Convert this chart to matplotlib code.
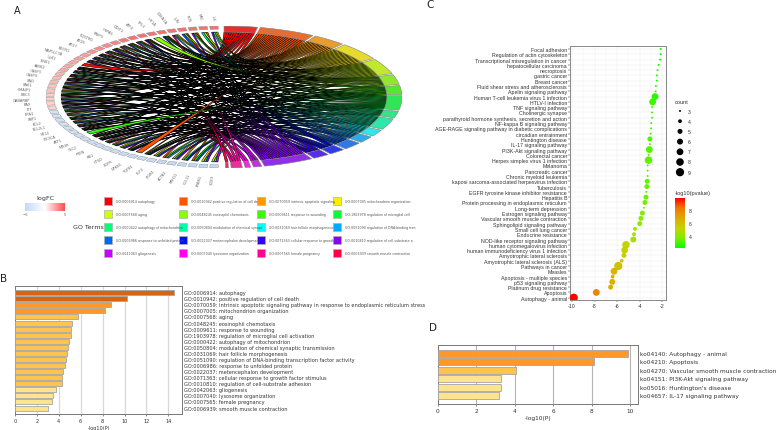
import matplotlib
matplotlib.use("Agg")
import matplotlib.pyplot as plt
from matplotlib.path import Path
from matplotlib.patches import PathPatch, Polygon, Rectangle
from matplotlib.colors import LinearSegmentedColormap, Normalize
from matplotlib.cm import ScalarMappable
import numpy as np

W, H = 777, 431

# --- panel A data
genes = ["IL6", "MYC", "FOS", "JUN", "CDKN1A", "HIF1A", "TP53", "ATF4", "DDIT3", "HSPA5",
         "BNIP3", "SQSTM1", "ATG5", "ATG7", "BECN1", "MAP1LC3B", "ULK1", "PINK1", "PARK2", "CASP3",
         "CASP9", "BAD", "BAK1", "PMAIP1", "BBC3", "GABARAP", "BAX", "LTF", "ERN1", "XBP1",
         "BCL2", "BCL2L1", "MCL1", "PIK3CA", "AKT1", "MTOR", "TSC2", "PTEN", "RB1", "CTSD",
         "EGFR", "NFKB1", "TGFB1", "KLF4", "ITGB1", "ACTA2", "MYH11", "CCL11", "PPARG", "SOX9"]
gene_logfc = [3.6, 3.9, 3.2, 2.8, 2.5, 2.4, 2.2, 2.0, 2.0, 1.9,
              1.8, 1.7, 1.7, 1.6, 1.5, 1.5, 1.4, 1.4, 1.4, 1.3,
              1.2, 1.2, 1.1, 1.1, 1.0, 1.0, 0.9, 0.9,
              -0.9, -1.0, -1.0, -1.1, -1.1, -1.1, -1.2, -1.2, -1.2, -1.3,
              -1.3, -1.3, -1.4, -1.4, -1.4, -1.5, -1.5, -1.6, -1.6, -1.7, -1.8, -1.8]
go_terms = ["GO:0006914 autophagy", "GO:0010942 positive regulation of cell de",
            "GO:0070059 intrinsic apoptotic signaling", "GO:0007005 mitochondrion organization",
            "GO:0007568 aging", "GO:0048245 eosinophil chemotaxis",
            "GO:0009611 response to wounding", "GO:1903978 regulation of microglial cell",
            "GO:0000422 autophagy of mitochondrion", "GO:0050804 modulation of chemical synapt",
            "GO:0031069 hair follicle morphogenesis", "GO:0051090 regulation of DNA-binding tran",
            "GO:0006986 response to unfolded protein", "GO:0022037 metencephalon development",
            "GO:0071363 cellular response to growth fa", "GO:0010810 regulation of cell-substrate a",
            "GO:0042063 gliogenesis", "GO:0007040 lysosome organization",
            "GO:0007565 female pregnancy", "GO:0006939 smooth muscle contraction"]
go_colors = ["#ff0000", "#ff5500", "#ff9900", "#ffee00", "#ccff00", "#88ff00", "#33ff00", "#00ff33",
             "#00ff77", "#00ffaa", "#00ffff", "#00aaff", "#0066ff", "#0011ff", "#3300ff", "#8800ff",
             "#cc00ff", "#ff00ee", "#ff0099", "#ff0044"]
# gene indices (0 = top of the ring) belonging to each GO term
go_members = [
    [3, 7, 9, 12, 15, 16, 18, 21, 24, 29, 35, 40],
    [1, 2, 5, 8, 10, 13, 14, 17, 19, 22, 25, 27, 28, 31, 33, 36, 38, 41, 44, 47],
    [2, 5, 8, 13, 17, 20, 23, 26, 30, 37, 42, 46],
    [0, 4, 7, 9, 11, 14, 17, 20, 23, 27, 30, 32, 33, 39, 43, 48],
    [1, 4, 10, 12, 15, 18, 22, 26, 29, 32, 35, 40, 45, 49],
    [0, 3, 6, 7, 11, 19, 24, 37, 42],
    [5, 21, 28, 33, 34, 36, 44, 47],
    [2, 5, 9, 13, 17, 20, 25, 31, 35, 38, 40, 42, 46],
    [12, 18, 23, 30, 39, 45],
    [1, 8, 14, 19, 22, 27, 32, 36, 43, 48],
    [0, 10, 18, 26, 35, 49],
    [4, 15, 24, 29, 42, 44],
    [3, 11, 21, 28, 33, 37, 47],
    [5, 7, 25, 31, 40, 46],
    [9, 13, 20, 36, 38, 42],
    [0, 2, 7, 8, 11, 14, 17, 22, 26, 27, 30, 33, 36, 39, 40, 43, 45, 48],
    [15, 32, 49],
    [19, 35],
    [4, 12, 24, 37],
    [10],
]

# --- panel B data
b_labels = ["GO:0006914: autophagy", "GO:0010942: positive regulation of cell death",
            "GO:0070059: intrinsic apoptotic signaling pathway in response to endoplasmic reticulum stress",
            "GO:0007005: mitochondrion organization", "GO:0007568: aging",
            "GO:0048245: eosinophil chemotaxis", "GO:0009611: response to wounding",
            "GO:1903978: regulation of microglial cell activation", "GO:0000422: autophagy of mitochondrion",
            "GO:0050804: modulation of chemical synaptic transmission", "GO:0031069: hair follicle morphogenesis",
            "GO:0051090: regulation of DNA-binding transcription factor activity",
            "GO:0006986: response to unfolded protein", "GO:0022037: metencephalon development",
            "GO:0071363: cellular response to growth factor stimulus",
            "GO:0010810: regulation of cell-substrate adhesion", "GO:0042063: gliogenesis",
            "GO:0007040: lysosome organization", "GO:0007565: female pregnancy",
            "GO:0006939: smooth muscle contraction"]
b_values = [14.5, 10.2, 8.75, 8.2, 5.75, 5.2, 5.15, 5.15, 4.9, 4.85,
            4.75, 4.7, 4.55, 4.4, 4.25, 4.25, 3.7, 3.5, 3.4, 3.05]

# --- panel C data
c_labels = ["Focal adhesion", "Regulation of actin cytoskeleton", "Transcriptional misregulation in cancer",
            "hepatocellular carcinoma", "necroptosis", "gastric cancer", "Breast cancer",
            "Fluid shear stress and atherosclerosis", "Apelin signaling pathway",
            "Human T-cell leukemia virus 1 infection", "HTLV-I infection", "TNF signaling pathway",
            "Cholinergic synapse", "parathyroid hormone synthesis, secretion and action",
            "NF-kappa B signaling pathway", "AGE-RAGE signaling pathway in diabetic complications",
            "circadian entrainment", "Huntington disease", "IL-17 signaling pathway",
            "PI3K-Akt signaling pathway", "Colorectal cancer", "Herpes simplex virus 1 infection",
            "Melanoma", "Pancreatic cancer", "Chronic myeloid leukemia",
            "kaposi sarcoma-associated herpesvirus infection", "Tuberculosis",
            "EGFR tyrosine kinase inhibitor resistance", "Hepatitis B",
            "Protein processing in endoplasmic reticulum", "Long-term depression", "Estrogen signaling pathway",
            "Vascular smooth muscle contraction", "Sphingolipid signaling pathway", "Small cell lung cancer",
            "Endocrine resistance", "NOD-like receptor signaling pathway", "human cytomegalovirus infection",
            "human immunodeficiency virus 1 infection", "Amyotrophic lateral sclerosis",
            "Amyotrophic lateral sclerosis (ALS)", "Pathways in cancer", "Measles",
            "Apoptosis - multiple species", "p53 signaling pathway", "Platinum drug resistance",
            "Apoptosis", "Autophagy - animal"]
c_log10p = [-2.15, -2.15, -2.2, -2.33, -2.42, -2.48, -2.48, -2.57, -2.6, -2.65,
            -2.86, -2.9, -2.92, -2.92, -2.98, -3.0, -3.04, -3.1, -3.1, -3.15,
            -3.22, -3.22, -3.3, -3.3, -3.3, -3.34, -3.37, -3.42, -3.45, -3.54,
            -3.63, -3.77, -3.89, -4.0, -4.42, -4.51, -4.57, -5.22, -5.34, -5.4,
            -5.6, -5.9, -6.28, -6.4, -6.43, -6.58, -7.85, -9.85]
c_counts = [3, 3, 3, 3, 3, 3, 3, 3, 3, 7, 7, 3, 3, 3, 3, 3, 3, 5, 3, 7,
            3, 8, 3, 3, 3, 5, 5, 3, 5, 5, 3, 5, 5, 5, 4, 4, 6, 8, 7, 5,
            4, 9, 7, 4, 6, 5, 7, 9]
count_levels = [3, 4, 5, 6, 7, 8, 9]

# --- panel D data
d_labels = ["ko04140: Autophagy - animal", "ko04210: Apoptosis", "ko04270: Vascular smooth muscle contraction",
            "ko04151: PI3K-Akt signaling pathway", "ko05016: Huntington's disease", "ko04657: IL-17 signaling pathway"]
d_values = [9.9, 8.1, 4.05, 3.3, 3.28, 3.15]


def px_axes(x0, y0, x1, y1):
    return fig.add_axes([x0 / W, 1 - y1 / H, (x1 - x0) / W, (y1 - y0) / H])


def px_text(x, y, s, **kw):
    kw.setdefault("va", "center")
    kw.setdefault("color", "#333333")
    fig.text(x / W, 1 - y / H, s, **kw)


def bar_colour(v):
    # metascape style steps
    if v >= 10:
        return "#d9640f"
    if v >= 6:
        return "#fe9929"
    if v >= 4:
        return "#fec44f"
    return "#fee391"


def bar_panel(rect, values, labels, xmax, ylim, ticks, grid_col, label_x, fs, lw_grid):
    ax = px_axes(*rect)
    ax.barh(range(len(values)), values, height=0.82, color=[bar_colour(v) for v in values],
            edgecolor="#a5a5a5", linewidth=0.6, zorder=3)
    ax.set_xlim(0, xmax)
    ax.set_ylim(*ylim)
    ax.set_yticks([])
    ax.set_xticks(ticks)
    ax.tick_params(axis="x", labelsize=fs, length=1.5, width=0.4, pad=1.5, colors="#333333")
    ax.xaxis.grid(True, color=grid_col, linewidth=lw_grid, zorder=0)
    ax.set_axisbelow(True)
    for sp in ax.spines.values():
        sp.set_color("#777777")
        sp.set_linewidth(0.7)
    ax.set_xlabel("-log10(P)", fontsize=fs, labelpad=1.5, color="#333333")
    for i, lab in enumerate(labels):
        ax.annotate(lab, xy=(1, i), xycoords=ax.get_yaxis_transform(), xytext=(label_x, 0),
                    textcoords="offset points", fontsize=fs, va="center", color="#333333",
                    annotation_clip=False)
    return ax


fig = plt.figure(figsize=(W / 100, H / 100), dpi=100, facecolor="white")

# panel letters
px_text(17.5, 10.5, "A", fontsize=7, ha="center", color="#222222")
px_text(4, 279, "B", fontsize=7.5, ha="center", color="#222222")
px_text(430, 5.5, "C", fontsize=7.5, ha="center", color="#222222")
px_text(433, 328, "D", fontsize=7.5, ha="center", color="#222222")

# ---------- A: chord diagram
ax = px_axes(46, 27, 402, 169)
ax.set_xlim(-1, 1)
ax.set_ylim(-1, 1)
ax.axis("off")

R_IN, R_OUT = 0.915, 1.0
fc_cmap = LinearSegmentedColormap.from_list("fc", ["#bcd4f5", "#d2e2f8", "#f5f5f5", "#ffcfc6", "#fa7070"])
fc_norm = Normalize(-2, 2, clip=True)


def arc(r0, r1, a0, a1, n=8):
    t = np.radians(np.linspace(a0, a1, n))
    outer = np.c_[r1 * np.cos(t), r1 * np.sin(t)]
    inner = np.c_[r0 * np.cos(t[::-1]), r0 * np.sin(t[::-1])]
    return np.vstack([outer, inner])


# gene boxes: top to bottom on the left half
gene_start, gene_end = 91.5, 268.5
n_genes = len(genes)
gene_step = (gene_end - gene_start) / n_genes
gene_edges = [(gene_start + i * gene_step + 0.4, gene_start + (i + 1) * gene_step - 0.4) for i in range(n_genes)]
for i, (a0, a1) in enumerate(gene_edges):
    ax.add_patch(Polygon(arc(0.955, R_OUT, a0, a1), fc=fc_cmap(fc_norm(gene_logfc[i])), ec="#8a8a8a", lw=0.3, zorder=6))
    mid = np.radians((a0 + a1) / 2)
    x, y = 1.09 * np.cos(mid), 1.09 * np.sin(mid)
    # rotation as seen on screen, the ring is squashed
    rot = np.degrees(np.arctan2(71 * np.sin(mid), 178 * np.cos(mid)))
    ax.text(x, y, genes[i], fontsize=2.6, color="#666666", rotation=rot - 180 if np.cos(mid) < 0 else rot,
            rotation_mode="anchor", ha="right", va="center", clip_on=False)

# GO sectors: clockwise from the top on the right half
sizes = [len(m) for m in go_members]
go_start, go_end = 90.0, -89.5
gap = 0.9
unit = (go_start - go_end - gap * (len(sizes) - 1)) / sum(sizes)
gene_used = [0] * n_genes
gene_total = [sum(i in m for m in go_members) for i in range(n_genes)]

pos = go_start
for t, members in enumerate(go_members):
    width = sizes[t] * unit
    # ribbons first, black edges give the dense centre
    order = sorted(members)
    for k, g in enumerate(order):
        b0 = pos - k * unit
        b1 = b0 - unit
        a0, a1 = gene_edges[g]
        a0, a1 = a0 + 0.25, a1 - 0.25
        share = (a1 - a0) / gene_total[g]
        g0 = a0 + gene_used[g] * share
        g1 = g0 + share
        gene_used[g] += 1
        tb = np.radians([b0, b1])
        tg = np.radians([g0, g1])
        p0 = np.array([R_IN * np.cos(tb[0]), R_IN * np.sin(tb[0])])
        p1 = np.array([R_IN * np.cos(tg[1]), R_IN * np.sin(tg[1])])
        p2 = np.array([R_IN * np.cos(tg[0]), R_IN * np.sin(tg[0])])
        p3 = np.array([R_IN * np.cos(tb[1]), R_IN * np.sin(tb[1])])
        # pull towards the centre, but not all the way, so the whole disc fills up
        c0 = 0.12 * (p0 + p1)
        c1 = 0.12 * (p2 + p3)
        verts = [p0, c0, p1, p2, c1, p3, p0]
        codes = [Path.MOVETO, Path.CURVE3, Path.CURVE3, Path.LINETO, Path.CURVE3, Path.CURVE3, Path.CLOSEPOLY]
        # genes with a single term keep their wide ribbon on top
        top = gene_total[g] == 1
        ax.add_patch(PathPatch(Path(verts, codes), fc=go_colors[t], ec="black", lw=0.38, zorder=3 if top else 2))
    ax.add_patch(Polygon(arc(R_IN, R_OUT, pos, pos - width), fc="#aaaaaa", ec="none", zorder=4))
    ax.add_patch(Polygon(arc(R_IN, R_OUT, pos, pos - width), fc=go_colors[t], alpha=0.72, ec="none", zorder=5))
    ax.add_patch(Polygon(arc(R_IN, R_OUT, pos, pos - width), fill=False, ec="#8a8a8a", lw=0.4, zorder=6))
    pos -= width + gap

# logFC colour bar
px_text(45, 199, "logFC", fontsize=4.6, ha="center")
cax = px_axes(25, 204, 65, 212)
cb = fig.colorbar(ScalarMappable(Normalize(-5, 5), LinearSegmentedColormap.from_list(
    "logfc", ["#c4d8fa", "#ffffff", "#ff4a4a"])), cax=cax, orientation="horizontal")
cb.outline.set_visible(False)
cb.set_ticks([-5, 5])
cb.ax.tick_params(labelsize=2.8, length=0, pad=1, colors="#666666")

# GO legend
px_text(88, 228, "GO Terms", fontsize=4.6, ha="center")
leg = px_axes(0, 0, W, H)
leg.set_xlim(0, W)
leg.set_ylim(H, 0)
leg.axis("off")
leg.patch.set_alpha(0)
col_x = [108, 183, 261, 337]
row_y = [202, 215, 228, 241, 254]
for i, term in enumerate(go_terms):
    cx, cy = col_x[i % 4], row_y[i // 4]
    leg.add_patch(Rectangle((cx - 3.8, cy - 3.8), 7.6, 7.6, fc=go_colors[i], ec="#b0b0b0", lw=0.5))
    px_text(cx + 8, cy, term, fontsize=2.35, color="#555555")

# ---------- B
bar_panel((15, 287, 182, 415), b_values, b_labels, 15.25, (19.98, -1.1),
          [0, 2, 4, 6, 8, 10, 12, 14], "#d8d8d8", 1.5, 3.6, 0.9)

# ---------- D
bar_panel((438, 346, 638, 405), d_values, d_labels, 10.4, (5.99, -0.98),
          [0, 2, 4, 6, 8, 10], "#b4b4b4", 1.2, 4.2, 0.8)

# ---------- C
c_cmap = LinearSegmentedColormap.from_list("pv", ["#00ff00", "#80ee00", "#c4d400", "#e0a800", "#f07800", "#ff0000"])
c_norm = Normalize(2.15, 9.85)


def dot_size(c):
    return 2 + (np.asarray(c) - 3) / 6 * 33


ax = px_axes(570, 46.7, 665.7, 301)
ax.scatter(c_log10p, range(len(c_labels)), s=dot_size(c_counts), c=-np.array(c_log10p), cmap=c_cmap, norm=c_norm,
           linewidths=0, zorder=3)
ax.set_xlim(-10.18, -1.7)
ax.set_ylim(47.43, -0.62)
ax.set_yticks(range(len(c_labels)))
ax.set_yticklabels(c_labels, fontname="Liberation Sans")
ax.set_xticks([-10, -8, -6, -4, -2])
ax.set_xticklabels(["-10", "-8", "-6", "-4", "-2"], fontname="Liberation Sans")
ax.set_xticks([-9, -7, -5, -3], minor=True)
ax.tick_params(axis="both", labelsize=3.8, length=1.3, width=0.35, pad=0.8, colors="#333333")
ax.tick_params(axis="x", which="minor", length=0)
ax.grid(True, which="major", color="#ebebeb", linewidth=0.35, zorder=0)
ax.grid(True, which="minor", axis="x", color="#f2f2f2", linewidth=0.3, zorder=0)
ax.set_axisbelow(True)
for sp in ax.spines.values():
    sp.set_color("#888888")
    sp.set_linewidth(0.7)

# count legend
px_text(675, 103, "count", fontsize=4.1, fontname="Liberation Sans")
leg_y = [112 + 10.2 * i for i in range(len(count_levels))]
leg.scatter([680] * len(count_levels), leg_y, s=dot_size(count_levels), c="black", linewidths=0)
for c, y in zip(count_levels, leg_y):
    px_text(688, y, str(c), fontsize=3.7, fontname="Liberation Sans")

# p value colour bar
px_text(675, 194, "-log10(pvalue)", fontsize=4.1, fontname="Liberation Sans")
cax = px_axes(675, 199, 685, 249)
cb = fig.colorbar(ScalarMappable(c_norm, c_cmap), cax=cax)
cb.outline.set_visible(False)
cb.set_ticks([4, 6, 8])
cb.ax.tick_params(labelsize=3.7, length=0, pad=2.5, colors="#333333")
for lab in cb.ax.get_yticklabels():
    lab.set_fontname("Liberation Sans")

fig.savefig("out.png", dpi=100)
